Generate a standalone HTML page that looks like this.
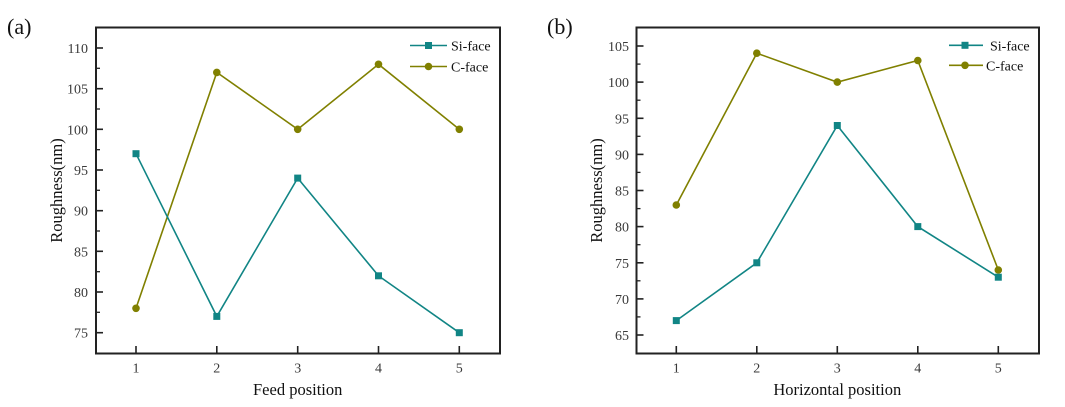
<!DOCTYPE html>
<html><head><meta charset="utf-8"><style>
html,body{margin:0;padding:0;background:#fff;}
svg{display:block;}
text{font-family:"Liberation Serif","Times New Roman",serif;}
.tk{font-size:14px;fill:#3a3a3a;}
.tt{font-size:16.5px;fill:#111;}
.lg{font-size:14px;fill:#111;}
</style></head><body>
<svg width="1065" height="407" viewBox="0 0 1065 407" xmlns="http://www.w3.org/2000/svg">
<!-- Panel labels -->
<text x="7" y="34" style="font-size:22px;fill:#111">(a)</text>
<text x="547" y="34" style="font-size:22px;fill:#111">(b)</text>

<!-- ===== Panel (a) ===== -->
<g>
<rect x="96" y="27.5" width="404" height="326" fill="none" stroke="#222" stroke-width="2"/>
<!-- y major ticks -->
<g stroke="#222" stroke-width="1.6">
<line x1="96" y1="48" x2="103" y2="48"/>
<line x1="96" y1="88.7" x2="103" y2="88.7"/>
<line x1="96" y1="129.3" x2="103" y2="129.3"/>
<line x1="96" y1="170" x2="103" y2="170"/>
<line x1="96" y1="210.7" x2="103" y2="210.7"/>
<line x1="96" y1="251.3" x2="103" y2="251.3"/>
<line x1="96" y1="292" x2="103" y2="292"/>
<line x1="96" y1="332.7" x2="103" y2="332.7"/>
</g>
<g stroke="#222" stroke-width="1.3">
<line x1="96" y1="68.3" x2="100" y2="68.3"/>
<line x1="96" y1="109" x2="100" y2="109"/>
<line x1="96" y1="149.7" x2="100" y2="149.7"/>
<line x1="96" y1="190.3" x2="100" y2="190.3"/>
<line x1="96" y1="231" x2="100" y2="231"/>
<line x1="96" y1="271.7" x2="100" y2="271.7"/>
<line x1="96" y1="312.3" x2="100" y2="312.3"/>
</g>
<!-- x ticks -->
<g stroke="#222" stroke-width="1.6">
<line x1="136" y1="353" x2="136" y2="346"/>
<line x1="216.8" y1="353" x2="216.8" y2="346"/>
<line x1="297.7" y1="353" x2="297.7" y2="346"/>
<line x1="378.5" y1="353" x2="378.5" y2="346"/>
<line x1="459.3" y1="353" x2="459.3" y2="346"/>
</g>
<!-- y tick labels -->
<g class="tk" text-anchor="end">
<text x="88" y="53">110</text>
<text x="88" y="93.7">105</text>
<text x="88" y="134.3">100</text>
<text x="88" y="175">95</text>
<text x="88" y="215.7">90</text>
<text x="88" y="256.3">85</text>
<text x="88" y="297">80</text>
<text x="88" y="337.7">75</text>
</g>
<g class="tk" text-anchor="middle">
<text x="136" y="372.5">1</text>
<text x="216.8" y="372.5">2</text>
<text x="297.7" y="372.5">3</text>
<text x="378.5" y="372.5">4</text>
<text x="459.3" y="372.5">5</text>
</g>
<text class="tt" x="297.7" y="395" text-anchor="middle">Feed position</text>
<text class="tt" transform="translate(62,190.5) rotate(-90)" text-anchor="middle">Roughness(nm)</text>
<!-- series -->
<polyline fill="none" stroke="#808000" stroke-width="1.6" points="136,308.3 216.8,72.4 297.7,129.3 378.5,64.3 459.3,129.3"/>
<polyline fill="none" stroke="#118585" stroke-width="1.6" points="136,153.7 216.8,316.4 297.7,178.1 378.5,275.8 459.3,332.7"/>
<g fill="#808000">
<circle cx="136" cy="308.3" r="3.8"/><circle cx="216.8" cy="72.4" r="3.8"/><circle cx="297.7" cy="129.3" r="3.8"/><circle cx="378.5" cy="64.3" r="3.8"/><circle cx="459.3" cy="129.3" r="3.8"/>
</g>
<g fill="#118585">
<rect x="132.5" y="150.2" width="7" height="7"/><rect x="213.3" y="312.9" width="7" height="7"/><rect x="294.2" y="174.6" width="7" height="7"/><rect x="375" y="272.3" width="7" height="7"/><rect x="455.8" y="329.2" width="7" height="7"/>
</g>
<!-- legend -->
<line x1="410" y1="45.5" x2="447" y2="45.5" stroke="#118585" stroke-width="1.6"/>
<rect x="425" y="42" width="7" height="7" fill="#118585"/>
<text class="lg" x="451" y="50.5">Si-face</text>
<line x1="410" y1="66.5" x2="447" y2="66.5" stroke="#808000" stroke-width="1.6"/>
<circle cx="428.5" cy="66.5" r="3.8" fill="#808000"/>
<text class="lg" x="451" y="71.5">C-face</text>
</g>

<!-- ===== Panel (b) ===== -->
<g>
<rect x="636.5" y="27.5" width="402.5" height="326" fill="none" stroke="#222" stroke-width="2"/>
<g stroke="#222" stroke-width="1.6">
<line x1="636.5" y1="46" x2="643.5" y2="46"/>
<line x1="636.5" y1="82.1" x2="643.5" y2="82.1"/>
<line x1="636.5" y1="118.3" x2="643.5" y2="118.3"/>
<line x1="636.5" y1="154.4" x2="643.5" y2="154.4"/>
<line x1="636.5" y1="190.5" x2="643.5" y2="190.5"/>
<line x1="636.5" y1="226.6" x2="643.5" y2="226.6"/>
<line x1="636.5" y1="262.8" x2="643.5" y2="262.8"/>
<line x1="636.5" y1="298.9" x2="643.5" y2="298.9"/>
<line x1="636.5" y1="335" x2="643.5" y2="335"/>
</g>
<g stroke="#222" stroke-width="1.3">
<line x1="636.5" y1="64.1" x2="640.5" y2="64.1"/>
<line x1="636.5" y1="100.2" x2="640.5" y2="100.2"/>
<line x1="636.5" y1="136.3" x2="640.5" y2="136.3"/>
<line x1="636.5" y1="172.4" x2="640.5" y2="172.4"/>
<line x1="636.5" y1="208.6" x2="640.5" y2="208.6"/>
<line x1="636.5" y1="244.7" x2="640.5" y2="244.7"/>
<line x1="636.5" y1="280.8" x2="640.5" y2="280.8"/>
<line x1="636.5" y1="316.9" x2="640.5" y2="316.9"/>
</g>
<g stroke="#222" stroke-width="1.6">
<line x1="676.3" y1="353" x2="676.3" y2="346"/>
<line x1="756.8" y1="353" x2="756.8" y2="346"/>
<line x1="837.3" y1="353" x2="837.3" y2="346"/>
<line x1="917.8" y1="353" x2="917.8" y2="346"/>
<line x1="998.3" y1="353" x2="998.3" y2="346"/>
</g>
<g class="tk" text-anchor="end">
<text x="629" y="51">105</text>
<text x="629" y="87.1">100</text>
<text x="629" y="123.3">95</text>
<text x="629" y="159.4">90</text>
<text x="629" y="195.5">85</text>
<text x="629" y="231.6">80</text>
<text x="629" y="267.8">75</text>
<text x="629" y="303.9">70</text>
<text x="629" y="340">65</text>
</g>
<g class="tk" text-anchor="middle">
<text x="676.3" y="372.5">1</text>
<text x="756.8" y="372.5">2</text>
<text x="837.3" y="372.5">3</text>
<text x="917.8" y="372.5">4</text>
<text x="998.3" y="372.5">5</text>
</g>
<text class="tt" x="837.3" y="395" text-anchor="middle">Horizontal position</text>
<text class="tt" transform="translate(602,190.5) rotate(-90)" text-anchor="middle">Roughness(nm)</text>
<polyline fill="none" stroke="#808000" stroke-width="1.6" points="676.3,205 756.8,53.2 837.3,82.1 917.8,60.5 998.3,270"/>
<polyline fill="none" stroke="#118585" stroke-width="1.6" points="676.3,320.6 756.8,262.8 837.3,125.5 917.8,226.6 998.3,277.2"/>
<g fill="#808000">
<circle cx="676.3" cy="205" r="3.8"/><circle cx="756.8" cy="53.2" r="3.8"/><circle cx="837.3" cy="82.1" r="3.8"/><circle cx="917.8" cy="60.5" r="3.8"/><circle cx="998.3" cy="270" r="3.8"/>
</g>
<g fill="#118585">
<rect x="672.8" y="317.1" width="7" height="7"/><rect x="753.3" y="259.3" width="7" height="7"/><rect x="833.8" y="122" width="7" height="7"/><rect x="914.3" y="223.1" width="7" height="7"/><rect x="994.8" y="273.7" width="7" height="7"/>
</g>
<line x1="949" y1="45.3" x2="983" y2="45.3" stroke="#118585" stroke-width="1.6"/>
<rect x="961.5" y="41.8" width="7" height="7" fill="#118585"/>
<text class="lg" x="990" y="50.3">Si-face</text>
<line x1="949" y1="65.3" x2="983" y2="65.3" stroke="#808000" stroke-width="1.6"/>
<circle cx="965" cy="65.3" r="3.8" fill="#808000"/>
<text class="lg" x="986" y="70.3">C-face</text>
</g>
</svg>
</body></html>
